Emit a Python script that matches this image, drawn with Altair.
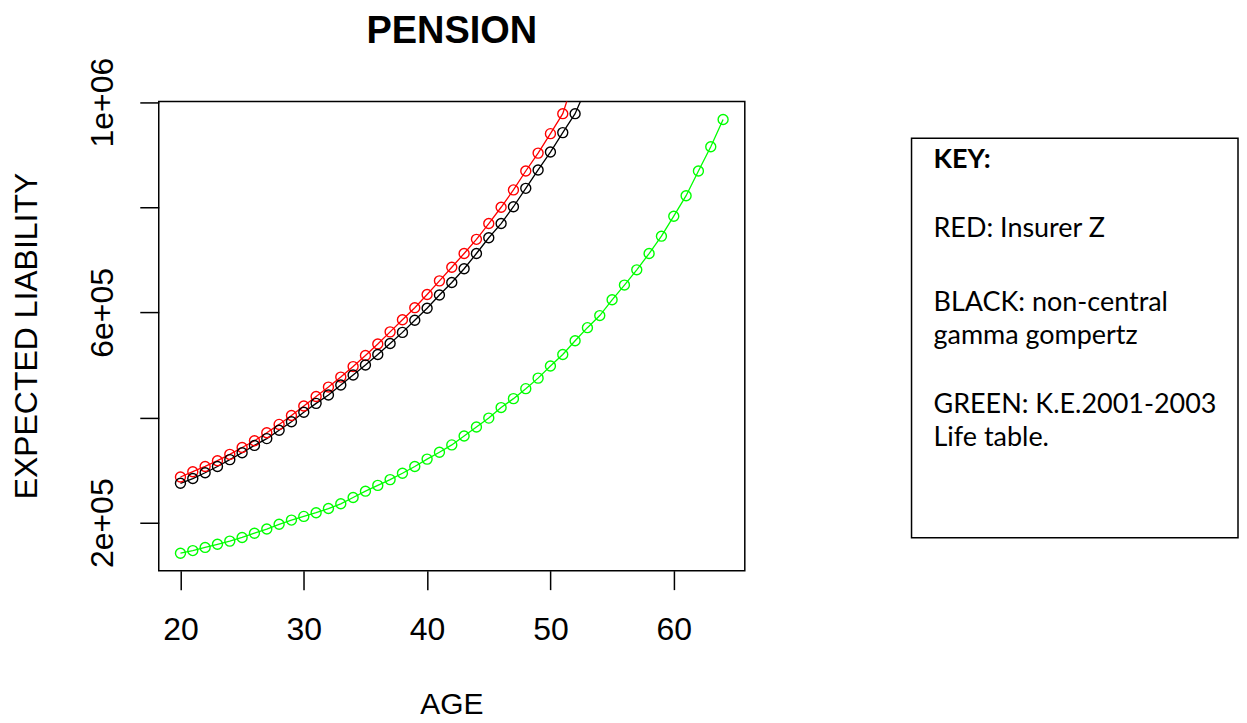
import altair as alt
import pandas as pd

# ---- data ----
red_ages = list(range(20, 53))
red_vals = [287, 297, 307, 318, 330, 343, 356, 371, 387, 404,
            422, 440, 458, 477, 497, 518, 540, 563, 586, 609,
            634, 660, 686, 712, 739, 769, 800, 833, 869, 903,
            940, 978, 1050]

black_ages = list(range(20, 54))
black_vals = [275, 284, 295, 307, 320, 333, 347, 360, 376, 392,
              410, 427, 443, 462, 481, 500, 520, 541, 562, 585,
              608, 633, 657, 683, 712, 742, 769, 801, 836, 871,
              905, 942, 978, 1032]

green_ages = list(range(20, 65))
green_vals = [142, 147, 153, 159, 165, 172, 180, 188, 197, 205,
              212, 219, 227, 236, 248, 260, 271, 282, 294, 307,
              321, 334, 348, 365, 382, 399, 419, 436, 455, 475,
              498, 520, 546, 571, 594, 624, 652, 681, 712, 745,
              783, 822, 869, 915, 967]

series_names = ["RED", "BLACK", "GREEN"]
series_colors = ["#FF0000", "#000000", "#00FF00"]

x_ticks = [20, 30, 40, 50, 60]
y_ticks = [200000, 400000, 600000, 800000, 1000000]
y_tick_labels = ["2e+05", "", "6e+05", "", "1e+06"]

title_text = "PENSION"
x_title = "AGE"
y_title = "EXPECTED LIABILITY"
key_lines = ["KEY:", "RED: Insurer Z", "BLACK: non-central", "gamma gompertz",
             "GREEN: K.E.2001-2003", "Life table."]

rows = []
for name, ages, vals in [("RED", red_ages, red_vals),
                         ("BLACK", black_ages, black_vals),
                         ("GREEN", green_ages, green_vals)]:
    for a, v in zip(ages, vals):
        rows.append({"series": name, "age": a, "value": v * 1000})
df = pd.DataFrame(rows)

label_expr = " : ".join(
    f"datum.value == {v} ? '{l}'" for v, l in zip(y_ticks, y_tick_labels)
) + " : ''"

FONT = "Liberation Sans"
KEYFONT = "Lato"

xscale = alt.Scale(domain=[18.24, 65.76], nice=False, zero=False)
yscale = alt.Scale(domain=[108800, 1001300], nice=False, zero=False)

xenc = alt.X("age:Q", scale=xscale,
             axis=alt.Axis(values=x_ticks, title=None, grid=False, domain=False,
                           labelFontSize=32, labelFont=FONT, labelPadding=25,
                           labelColor="black", tickColor="black", tickWidth=1.5,
                           tickSize=19))
yenc = alt.Y("value:Q", scale=yscale,
             axis=alt.Axis(values=y_ticks, labelExpr=label_expr, title=None,
                           grid=False, domain=False,
                           labelAngle=270, labelAlign="center",
                           labelBaseline="alphabetic", labelFontSize=32,
                           labelFont=FONT, labelPadding=27, labelColor="black",
                           tickColor="black", tickWidth=1.5, tickSize=19))
color = alt.Color("series:N", scale=alt.Scale(domain=series_names, range=series_colors),
                  legend=None)

base = alt.Chart(df).encode(x=xenc, y=yenc, color=color, detail="series:N")
lines = base.mark_line(strokeWidth=1.3, clip=True)
points = base.mark_point(shape="circle", filled=False, size=100, strokeWidth=1.4,
                         opacity=1, clip=True)

one = pd.DataFrame({"k": [0]})

W, H = 587, 470
TOTAL_H = 715

title = alt.Chart(one).mark_text(
    text=title_text, font=FONT, fontWeight="bold", fontSize=38,
    align="center", baseline="alphabetic", color="black"
).encode(x=alt.value(W / 2), y=alt.value(-59))

xt = alt.Chart(one).mark_text(
    text=x_title, font=FONT, fontSize=30, align="center",
    baseline="alphabetic", color="black"
).encode(x=alt.value(W / 2), y=alt.value(614))

yt = alt.Chart(one).mark_text(
    text=y_title, font=FONT, fontSize=32, align="center", angle=270,
    baseline="alphabetic", color="black"
).encode(x=alt.value(-122), y=alt.value(H / 2))

key_box = alt.Chart(one).mark_rect(
    fillOpacity=0, stroke="black", strokeWidth=1.5
).encode(x=alt.value(754), x2=alt.value(1081), y=alt.value(37), y2=alt.value(437))

key_y = [67, 136, 210, 243, 312, 345]
key_layers = []
for txt, yy in zip(key_lines, key_y):
    key_layers.append(
        alt.Chart(one).mark_text(
            text=txt, font=KEYFONT, fontSize=27,
            fontWeight="bold" if txt == "KEY:" else "normal",
            align="left", baseline="alphabetic", color="black"
        ).encode(x=alt.value(776), y=alt.value(yy))
    )

chart = alt.layer(lines, points, title, xt, yt, key_box, *key_layers).properties(
    width=W, height=H,
    background="white",
    autosize=alt.AutoSizeParams(type="none"),
    padding={"left": 151, "top": 93, "right": 1233 - 151 - W,
             "bottom": TOTAL_H - 93 - H},
).configure_view(
    stroke="black", strokeWidth=1.5
)

chart.save("out.html", embed_options={"renderer": "svg", "actions": False})
